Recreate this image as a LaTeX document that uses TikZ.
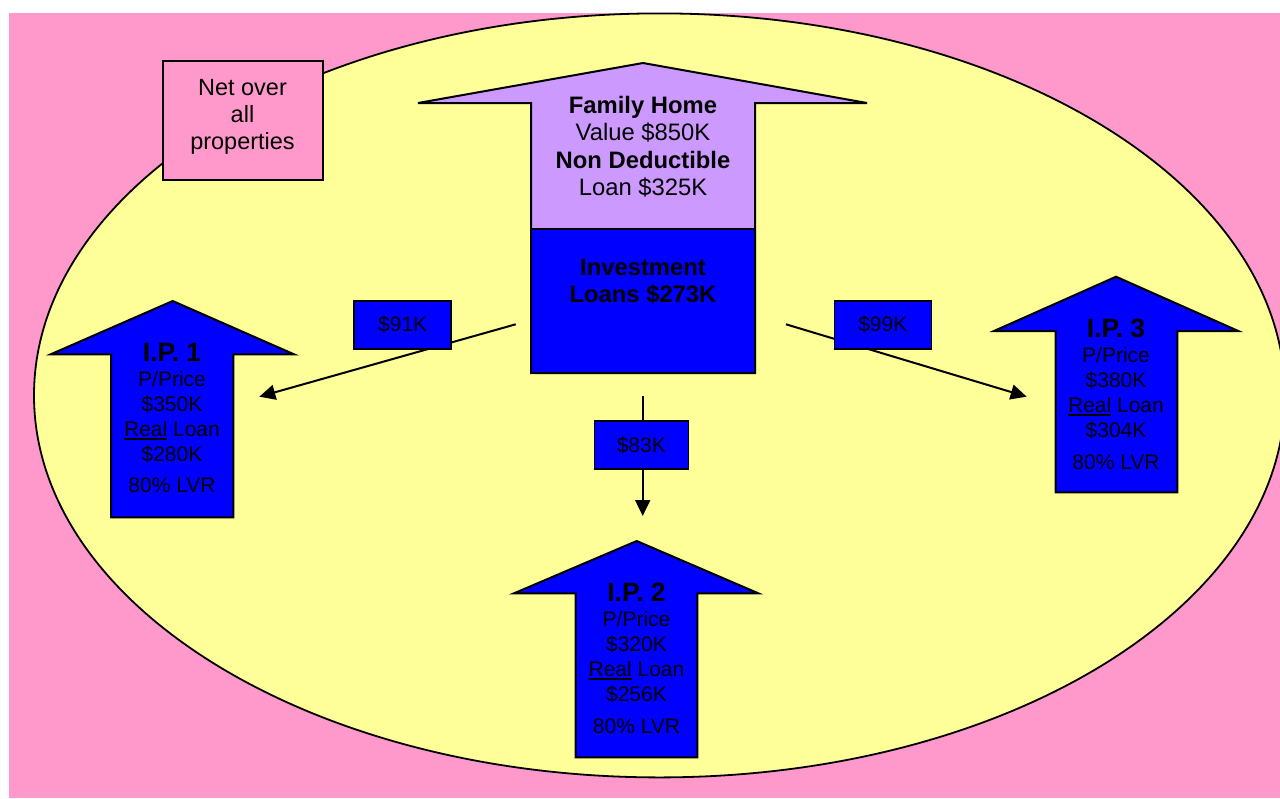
\documentclass[tikz,border=0pt]{standalone}
\usepackage{fontspec}
\setmainfont{Liberation Sans}
\usetikzlibrary{arrows.meta}
\definecolor{bgpink}{HTML}{FF99CC}
\definecolor{ellyellow}{HTML}{FFFF99}
\definecolor{fhpurple}{HTML}{CC99FF}
\definecolor{ipblue}{HTML}{0000FF}
\newcommand\myul[1]{\setbox0\hbox{#1}\rlap{\rule[-3.5pt]{\wd0}{2pt}}#1}
\begin{document}
\begin{tikzpicture}[x=1pt,y=-1pt,
  outline/.style={draw=black,line width=2pt,line join=miter},
  flow/.style={draw=black,line width=2pt,-{Triangle[length=16pt,width=15pt]}},
  amount/.style={draw=black,line width=1.6pt,fill=ipblue,minimum width=97pt,minimum height=48pt,inner sep=0pt,font=\fontsize{21}{25}\selectfont},
  iptext/.style={align=center,font=\fontsize{21}{25}\selectfont,inner sep=0pt},
  fhtext/.style={align=center,font=\fontsize{23.8}{27.5}\selectfont,inner sep=0pt}]
\useasboundingbox (0,0) rectangle (1280,798);
\fill[white] (0,0) rectangle (1280,798);
\fill[bgpink] (9,13) rectangle (1280,798);
% ellipse
\draw[fill=ellyellow,line width=1.8pt] (659.5,395.4) ellipse [x radius=625.5, y radius=382];
% Net box
\node[draw,line width=2pt,fill=bgpink,minimum width=160pt,minimum height=119pt,inner sep=0pt] (netbox) at (242.7,120.5) {};
\node[fhtext,font=\fontsize{23.5}{27}\selectfont] (nettext) at (242.5,116.5) {Net over\\all\\properties};
% Family home arrow
\fill[fhpurple] (418,103) -- (643,63) -- (867,103) -- (755,103) -- (755,229) -- (531,229) -- (531,103) -- cycle;
\fill[ipblue] (531,229) rectangle (755,373);
\draw[outline] (418,103) -- (643,63) -- (867,103) -- (755,103) -- (755,373) -- (531,373) -- (531,103) -- cycle;
\draw[outline] (531,229) -- (755,229);
\node[fhtext] (fhtxt) at (643,146.7) {\textbf{Family Home}\\Value \$850K\\\textbf{Non Deductible}\\Loan \$325K};
\node[fhtext] (invtxt) at (643,281.6) {\textbf{Investment}\\\textbf{Loans \$273K}};
% IP arrows
\draw[outline,fill=ipblue] (50.7,354.3) -- (172.7,301) -- (294,354.3) -- (233.3,354.3) -- (233.3,517.3) -- (111,517.3) -- (111,354.3) -- cycle;
\draw[outline,fill=ipblue] (994,331) -- (1116,276.7) -- (1238.3,331) -- (1177.3,331) -- (1177.3,492.3) -- (1055.7,492.3) -- (1055.7,331) -- cycle;
\draw[outline,fill=ipblue] (514,593.3) -- (636.7,541) -- (758.3,593.3) -- (697.3,593.3) -- (697.3,757.3) -- (575.7,757.3) -- (575.7,593.3) -- cycle;
\node[iptext] (ip1) at (172,418) {{\fontsize{26.5}{25}\selectfont\bfseries I.P. 1}\\P/Price\\\$350K\\\myul{Real} Loan\\\$280K\\[6.5pt]80\% LVR};
\node[iptext] (ip3) at (1116,394.5) {{\fontsize{26.5}{25}\selectfont\bfseries I.P. 3}\\P/Price\\\$380K\\\myul{Real} Loan\\\$304K\\[6.5pt]80\% LVR};
\node[iptext] (ip2) at (636.5,658.4) {{\fontsize{26.5}{25}\selectfont\bfseries I.P. 2}\\P/Price\\\$320K\\\myul{Real} Loan\\\$256K\\[6.5pt]80\% LVR};
% connectors
\coordinate (s91) at (515.7,324.3);
\coordinate (e91) at (259.3,396.7);
\coordinate (s99) at (786,324.3);
\coordinate (e99) at (1026.7,396.7);
\coordinate (s83) at (642.7,396);
\coordinate (e83) at (642.7,516);
\draw[flow] (s91) -- (e91);
\draw[flow] (s99) -- (e99);
\draw[flow] (s83) -- (e83);
\node[amount] (l91) at (402.7,324.8) {\$91K};
\node[amount] (l99) at (882.8,324.8) {\$99K};
\node[amount,minimum width=94pt] (l83) at (641.3,445) {\$83K};
\end{tikzpicture}
\end{document}
